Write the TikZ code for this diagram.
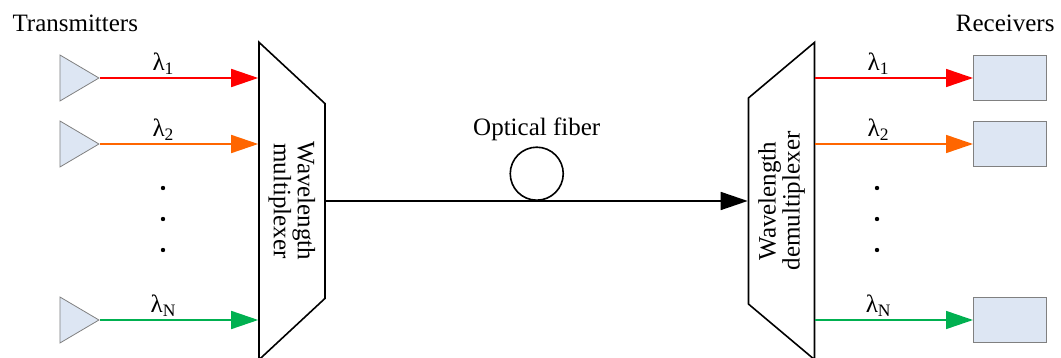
\documentclass[tikz,border=0pt]{standalone}
\usepackage{fontspec}
\setmainfont{Liberation Serif}
\usetikzlibrary{shapes.geometric, arrows.meta, positioning}
\definecolor{boxfill}{RGB}{221,230,243}
\definecolor{sigred}{RGB}{255,0,0}
\definecolor{sigorange}{RGB}{255,102,0}
\definecolor{siggreen}{RGB}{0,176,80}

\begin{document}
\begin{tikzpicture}[
    x=1pt, y=-1pt,
    font=\fontsize{25}{26}\selectfont,
    txnode/.style={isosceles triangle, isosceles triangle stretches, minimum width=46pt, minimum height=39pt, inner sep=0pt, draw=gray, fill=boxfill, line width=0.8pt},
    rxnode/.style={rectangle, minimum width=73pt, minimum height=45pt, inner sep=0pt, draw=gray, fill=boxfill, line width=0.8pt},
    muxnode/.style={trapezium, trapezium stretches, trapezium angle=51.3, minimum width=318pt, minimum height=66pt, inner sep=0pt, draw=black, line width=1.6pt, align=center, font=\fontsize{25}{24}\selectfont},
    coil/.style={circle, minimum size=53pt, inner sep=0pt, draw=black, line width=1.6pt},
    sig/.style={-{Triangle[length=27pt, width=18pt]}, line width=1.6pt},
    lam/.style={pos=0.4, above, text=black, inner sep=3pt},
    fiber/.style={-{Triangle[length=27pt, width=18pt]}, line width=1.6pt, black}
]
\useasboundingbox (0,0) rectangle (1061,358);

% Group labels
\node[anchor=base west] (txlabel) at (9,32) {Transmitters};
\node[anchor=base east] (rxlabel) at (1058,32) {Receivers};

% Multiplexer and demultiplexer
\node (mux) [muxnode, rotate=-90] at (292,201) {Wavelength\\multiplexer};
\node (demux) [muxnode, rotate=90] at (781.5,201) {Wavelength\\demultiplexer};

% Transmitters
\node (tx1) [txnode, anchor=apex] at (100,78) {};
\node (tx2) [txnode, anchor=apex] at (100,144) {};
\node (txN) [txnode, anchor=apex] at (100,320) {};

% Receivers
\node (rx1) [rxnode, anchor=west] at (973,78) {};
\node (rx2) [rxnode, anchor=west] at (973,144) {};
\node (rxN) [rxnode, anchor=west] at (973,320) {};

% Channels into the multiplexer
\draw [sig, sigred] (tx1.apex) -- node[lam] (lamin1) {λ\textsubscript{1}} (tx1.apex -| mux.south);
\draw [sig, sigorange] (tx2.apex) -- node[lam] (lamin2) {λ\textsubscript{2}} (tx2.apex -| mux.south);
\draw [sig, siggreen] (txN.apex) -- node[lam] (laminN) {λ\textsubscript{N}} (txN.apex -| mux.south);

% Channels out of the demultiplexer
\draw [sig, sigred] (rx1.west -| demux.south) -- node[lam] (lamout1) {λ\textsubscript{1}} (rx1.west);
\draw [sig, sigorange] (rx2.west -| demux.south) -- node[lam] (lamout2) {λ\textsubscript{2}} (rx2.west);
\draw [sig, siggreen] (rxN.west -| demux.south) -- node[lam] (lamoutN) {λ\textsubscript{N}} (rxN.west);

% Dots
\foreach \yy in {188,219,250} {
    \fill (163,\yy) circle (2.2pt);
    \fill (877,\yy) circle (2.2pt);
}

% Optical fiber
\draw [fiber] (mux.north) -- coordinate[midway] (fibmid) (demux.north);
\node (coil) [coil, anchor=south] at (fibmid) {};
\node (fiblabel) [above=2pt of coil] {Optical fiber};
\end{tikzpicture}
\end{document}
